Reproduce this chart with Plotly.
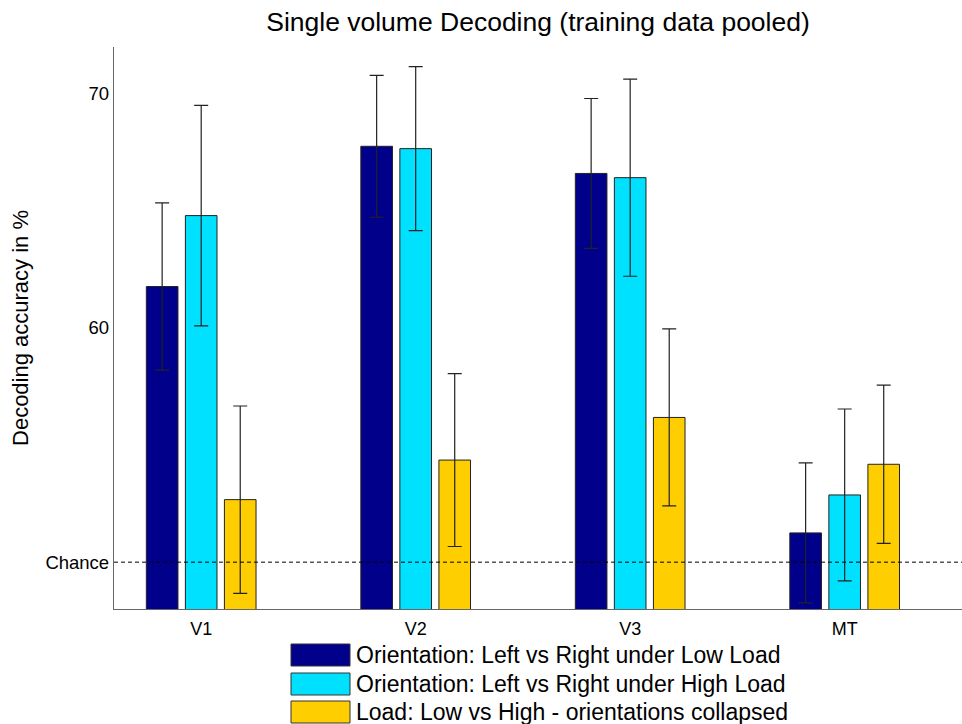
import plotly.graph_objects as go

# Decoding accuracy (%) per visual area, with error-bar half-lengths
regions = ["V1", "V2", "V3", "MT"]
series_names = [
    "Orientation: Left vs Right under Low Load",
    "Orientation: Left vs Right under High Load",
    "Load: Low vs High - orientations collapsed",
]
low_load = [61.77, 67.76, 66.60, 51.25]
low_load_err = [3.57, 3.03, 3.20, 2.99]
high_load = [64.80, 67.66, 66.42, 52.87]
high_load_err = [4.71, 3.50, 4.21, 3.67]
load_collapsed = [52.67, 54.36, 56.18, 54.18]
load_collapsed_err = [4.00, 3.69, 3.78, 3.38]

chance_level = 50
y_tick_values = [50, 60, 70]
y_tick_labels = ["Chance", "60", "70"]

colors = ["#00008B", "#00E1FF", "#FFCE00"]
values = [low_load, high_load, load_collapsed]
errors = [low_load_err, high_load_err, load_collapsed_err]

FONT = "Liberation Sans, Arial, sans-serif"
W, H = 962, 724
ML, MR, MT_, MB = 114, 0, 47, 115

fig = go.Figure()
for name, vals, errs, col in zip(series_names, values, errors, colors):
    fig.add_trace(go.Bar(
        x=regions, y=vals, name=name,
        marker=dict(color=col, line=dict(color="#222222", width=1)),
        error_y=dict(type="data", array=errs, visible=True,
                     color="#222222", thickness=1.2, width=7),
        showlegend=False,
    ))

# dashed chance line across the plotting area
fig.add_shape(type="line", xref="paper", x0=0, x1=1, yref="y",
              y0=chance_level, y1=chance_level,
              line=dict(color="black", width=1, dash="4px,3px"))

# legend drawn as large colour swatches with labels underneath the axes
row_centers = [655, 684, 712]
for name, col, yc in zip(series_names, colors, row_centers):
    y_top = 1 - (yc - 11 - MT_) / (H - MT_ - MB)
    y_bot = 1 - (yc + 11 - MT_) / (H - MT_ - MB)
    fig.add_shape(type="rect", xref="paper", yref="paper",
                  x0=(291 - ML) / (W - ML - MR), x1=(350 - ML) / (W - ML - MR),
                  y0=y_bot, y1=y_top,
                  fillcolor=col, line=dict(color="#333333", width=1))
    fig.add_annotation(xref="paper", yref="paper",
                       x=(354 - ML) / (W - ML - MR),
                       y=1 - (yc - MT_) / (H - MT_ - MB),
                       text=name, showarrow=False, xanchor="left",
                       yanchor="middle",
                       font=dict(family=FONT, size=23, color="black"))

fig.update_layout(
    width=W, height=H,
    margin=dict(l=ML, r=MR, t=MT_, b=MB),
    paper_bgcolor="white", plot_bgcolor="white",
    barmode="group", bargap=0.454, bargroupgap=0.19,
    font=dict(family=FONT, color="black"),
    title=dict(text="Single volume Decoding (training data pooled)",
               x=(ML + (W - ML - MR) / 2) / W, xanchor="center",
               y=1 - 22 / H, yanchor="middle", yref="container",
               font=dict(family=FONT, size=26.5, color="black")),
    xaxis=dict(range=[-0.4065, 3.547], showline=True, linecolor="#666666",
               linewidth=1.3, ticks="outside", ticklen=3,
               tickcolor="rgba(0,0,0,0)", showgrid=False, zeroline=False,
               tickfont=dict(family=FONT, size=18, color="black")),
    yaxis=dict(range=[48, 72], tickvals=y_tick_values, ticktext=y_tick_labels,
               showline=True, linecolor="#666666", linewidth=1.3,
               ticks="", showgrid=False, zeroline=False,
               tickfont=dict(family=FONT, size=18.5, color="black"),
               title=dict(text="Decoding accuracy in %", standoff=10,
                          font=dict(family=FONT, size=22, color="black"))),
)

fig.write_html("out.html")
